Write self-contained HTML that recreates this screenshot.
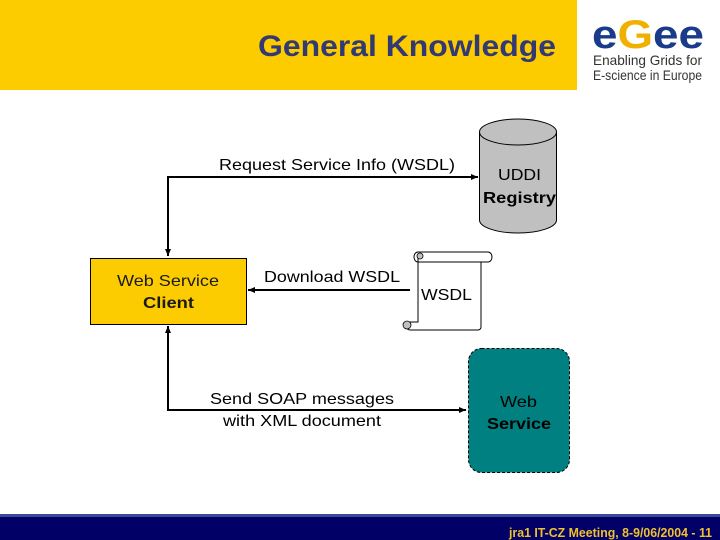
<!DOCTYPE html>
<html><head><meta charset="utf-8"><style>
html,body{margin:0;padding:0;background:#fff;}
svg{display:block;}
text{font-family:"Liberation Sans",Arial,sans-serif;}
</style></head><body>
<svg width="720" height="540" viewBox="0 0 720 540" xmlns="http://www.w3.org/2000/svg">
<defs>
<marker id="ar" markerWidth="8" markerHeight="8" refX="7" refY="4" orient="auto-start-reverse" markerUnits="userSpaceOnUse">
<path d="M0,1 L7,4 L0,7 z" fill="#000"/></marker>
</defs>
<rect x="0" y="0" width="577" height="90" fill="#fccc00"/>
<text x="258" y="56" font-size="30" font-weight="bold" fill="#333a73" textLength="298" lengthAdjust="spacingAndGlyphs">General Knowledge</text>
<!-- logo -->
<text x="592" y="48" font-size="40" font-weight="bold" fill="#1a3a8a" textLength="112" lengthAdjust="spacingAndGlyphs">e<tspan fill="#f0b000">G</tspan>ee</text>
<text x="593" y="65" font-size="14" fill="#333" textLength="109" lengthAdjust="spacingAndGlyphs">Enabling Grids for</text>
<text x="593" y="80" font-size="14" fill="#333" textLength="109" lengthAdjust="spacingAndGlyphs">E-science in Europe</text>

<!-- connectors -->
<polyline points="478,177 168,177 168,256" fill="none" stroke="#000" stroke-width="2" marker-start="url(#ar)" marker-end="url(#ar)"/>
<polyline points="168,326 168,410 466,410" fill="none" stroke="#000" stroke-width="2" marker-start="url(#ar)" marker-end="url(#ar)"/>
<line x1="410" y1="290" x2="248" y2="290" stroke="#000" stroke-width="2" marker-end="url(#ar)"/>
<text x="219" y="170" font-size="16" fill="#000" textLength="236" lengthAdjust="spacingAndGlyphs">Request Service Info (WSDL)</text>
<text x="264" y="282" font-size="16" fill="#000" textLength="136" lengthAdjust="spacingAndGlyphs">Download WSDL</text>
<text x="210" y="404" font-size="16" fill="#000" textLength="184" lengthAdjust="spacingAndGlyphs">Send SOAP messages</text>
<text x="223" y="426" font-size="16" fill="#000" textLength="158" lengthAdjust="spacingAndGlyphs">with XML document</text>

<!-- client -->
<rect x="90.5" y="258.5" width="156" height="66" fill="#fccc00" stroke="#000"/>
<text x="117" y="286" font-size="16" fill="#1a1a1a" textLength="102" lengthAdjust="spacingAndGlyphs">Web Service</text>
<text x="143" y="308" font-size="16" font-weight="bold" fill="#1a1a1a" textLength="51" lengthAdjust="spacingAndGlyphs">Client</text>

<!-- cylinder -->
<path d="M479.5,132 L479.5,220 A38.5,13 0 0 0 556.5,220 L556.5,132" fill="#c0c0c0" stroke="#000"/>
<ellipse cx="518" cy="132" rx="38.5" ry="13" fill="#c0c0c0" stroke="#000"/>
<text x="498" y="180" font-size="16" fill="#000" textLength="43" lengthAdjust="spacingAndGlyphs">UDDI</text>
<text x="483" y="203" font-size="16" font-weight="bold" fill="#000" textLength="73" lengthAdjust="spacingAndGlyphs">Registry</text>

<!-- scroll -->
<path d="M418,256 L418,322 L410,322 A4,4 0 0 0 410,330 L478,330 A3,3 0 0 0 481,327 L481,262 L488,262 A4,5 0 0 0 488,252 L418,252" fill="#fff" stroke="#000"/>
<path d="M418,252 A4,5 0 0 0 418,262 L481,262" fill="none" stroke="#000"/>
<circle cx="420" cy="256" r="3" fill="#c0c0c0" stroke="#000" stroke-width="0.8"/>
<circle cx="407" cy="325" r="4" fill="#c0c0c0" stroke="#000" stroke-width="0.8"/>
<text x="421" y="300" font-size="16" fill="#000" textLength="51" lengthAdjust="spacingAndGlyphs">WSDL</text>

<!-- web service -->
<rect x="468.5" y="348.5" width="101" height="124" rx="13" fill="#008080" stroke="#000" stroke-dasharray="3,2"/>
<text x="500" y="407" font-size="16" fill="#000" textLength="37" lengthAdjust="spacingAndGlyphs">Web</text>
<text x="487" y="429" font-size="16" font-weight="bold" fill="#000" textLength="64" lengthAdjust="spacingAndGlyphs">Service</text>

<!-- footer -->
<rect x="0" y="514" width="720" height="26" fill="#000066"/>
<rect x="0" y="514" width="720" height="3" fill="#3a4a99"/>
<text x="509" y="537" font-size="13" font-weight="bold" fill="#f0c030" textLength="203" lengthAdjust="spacingAndGlyphs">jra1 IT-CZ Meeting, 8-9/06/2004  -  11</text>
</svg>
</body></html>
